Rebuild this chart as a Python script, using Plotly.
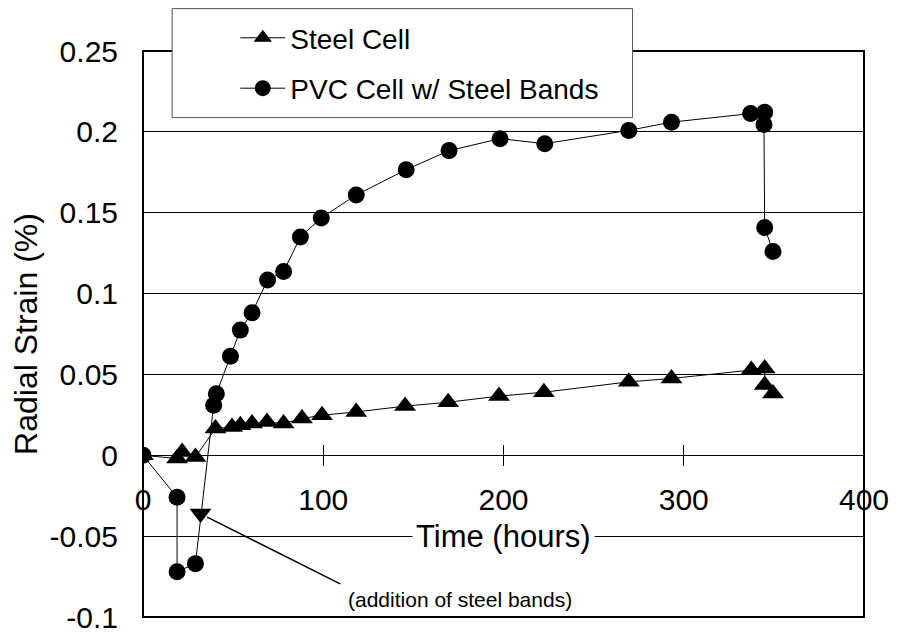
import plotly.graph_objects as go

# ---- data ----
steel_time = [0, 18.9, 21.7, 29.1, 40.2, 49.4, 54.0, 60.5, 68.8, 78.0, 88.2, 99.3,
              118.3, 145.4, 169.3, 197.5, 222.4, 269.5, 293.2, 337.5, 344.9, 344.9, 349.5]
steel_strain = [0, -0.002, 0.002, -0.001, 0.0165, 0.0175, 0.0186, 0.0196, 0.0206, 0.0196,
                0.0227, 0.0248, 0.0268, 0.0304, 0.0328, 0.0366, 0.039, 0.0454, 0.0475,
                0.0527, 0.0537, 0.0434, 0.0382]

pvc_time = [0, 18.9, 18.9, 29.1, 39.2, 40.7, 48.5, 54.0, 60.5, 69.1, 78.0, 87.3, 98.9,
            118.3, 146.0, 169.8, 198.1, 222.9, 269.5, 293.2, 337.1, 344.9, 344.5, 344.9, 349.5]
pvc_strain = [0, -0.026, -0.072, -0.067, 0.031, 0.038, 0.0613, 0.0774, 0.0882, 0.1084,
              0.1136, 0.135, 0.1468, 0.161, 0.1766, 0.1884, 0.1958, 0.1927, 0.2009, 0.206,
              0.2113, 0.2121, 0.2045, 0.1408, 0.126]

event_time = [31.9]
event_strain = [-0.036]
event_label = "(addition of steel bands)"

x_ticks = [0, 100, 200, 300, 400]
y_ticks = [-0.1, -0.05, 0, 0.05, 0.1, 0.15, 0.2, 0.25]
y_ticktext = ["-0.1", "-0.05", "0", "0.05", "0.1", "0.15", "0.2", "0.25"]

FONT = "Arial, Liberation Sans, sans-serif"

fig = go.Figure()
fig.add_trace(go.Scatter(
    x=steel_time, y=steel_strain, mode="lines+markers", name="Steel Cell",
    legendgroup="steel",
    line=dict(color="black", width=1),
    marker=dict(symbol="triangle-up", size=19, color="black")))
fig.add_trace(go.Scatter(
    x=pvc_time, y=pvc_strain, mode="lines+markers", name="PVC Cell w/ Steel Bands",
    legendgroup="pvc",
    line=dict(color="black", width=1),
    marker=dict(symbol="circle", size=17, color="black")))
fig.add_trace(go.Scatter(
    x=event_time, y=event_strain, mode="markers", showlegend=False,
    marker=dict(symbol="triangle-down", size=19, color="black")))
# empty trace to activate the tick-mirroring axis
fig.add_trace(go.Scatter(x=[], y=[], xaxis="x2", showlegend=False))

axis_zero_pos = (0 - (-0.1)) / 0.35

# the page body adds an 8px offset, so the figure is sized to fit the window
fig.update_layout(
    width=889, height=626,
    margin=dict(l=134.5, r=32.5, t=42.7, b=17.3, pad=0, autoexpand=False),
    paper_bgcolor="white", plot_bgcolor="white",
    font=dict(family=FONT, color="black"),
    showlegend=True,
    legend=dict(x=0.128, y=1.067, xanchor="left", yanchor="top",
                bgcolor="rgba(0,0,0,0)", borderwidth=0,
                font=dict(size=28, family=FONT), itemwidth=45,
                tracegroupgap=11),
    xaxis=dict(range=[0, 400], anchor="free", position=axis_zero_pos,
               showline=True, linecolor="black", linewidth=1,
               ticks="outside", ticklen=10, tickwidth=1, tickcolor="black",
               tickvals=x_ticks, tickfont=dict(size=30),
               ticklabelstandoff=8, automargin=False,
               showgrid=False, zeroline=False),
    xaxis2=dict(range=[0, 400], overlaying="x", anchor="free", position=axis_zero_pos,
                matches="x", showline=False, ticks="inside", ticklen=10, tickwidth=1,
                tickcolor="black", tickvals=x_ticks, showticklabels=False,
                showgrid=False, zeroline=False, automargin=False),
    yaxis=dict(range=[-0.1, 0.25], tickvals=y_ticks, ticktext=y_ticktext,
               showgrid=True, gridcolor="black", gridwidth=1,
               zeroline=False, ticks="", tickfont=dict(size=30),
               ticklabelstandoff=24, automargin=False,
               title=dict(text="Radial Strain (%)", font=dict(size=32), standoff=4)),
    shapes=[
        dict(type="rect", xref="x domain", yref="y domain", x0=0, x1=1, y0=0, y1=1,
             line=dict(color="black", width=2), layer="above"),
        dict(type="rect", xref="paper", yref="paper", x0=0.0404, x1=0.679,
             y0=0.8823, y1=1.0749, fillcolor="white",
             line=dict(color="#555555", width=1), layer="above"),
        dict(type="line", xref="x", yref="y", x0=35.6, y0=-0.0382, x1=109.4, y1=-0.0795,
             line=dict(color="black", width=1.5)),
    ],
    annotations=[
        dict(text="Time (hours)", x=200, y=-0.05, xref="x", yref="y",
             showarrow=False, font=dict(size=31, family=FONT),
             bgcolor="white", borderpad=3),
        dict(text=event_label, x=176, y=-0.089, xref="x", yref="y",
             showarrow=False, font=dict(size=21, family=FONT)),
    ],
)

fig.write_html("out.html")
